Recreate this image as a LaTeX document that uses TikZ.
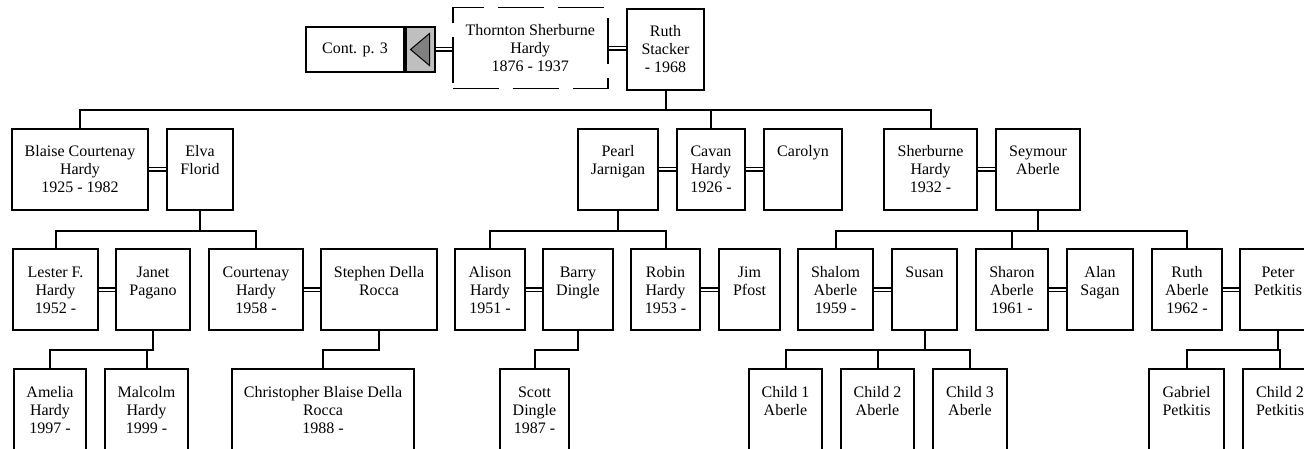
\documentclass[tikz,border=0pt]{standalone}
\usepackage{fontspec}
\setmainfont{Liberation Serif}
\usetikzlibrary{positioning}
\newcommand{\who}[1]{\begin{tabular}[t]{@{}c@{}}#1\end{tabular}}
\tikzset{
  person/.style={draw, line width=2pt, anchor=north west, inner sep=0pt,
    text height=28pt, text depth=53pt, font=\fontsize{16}{18}\selectfont},
  cut/.style={person, text depth=62pt},
  spouse/.style={double, double distance=2pt, line width=1.5pt},
  line/.style={line width=2pt}
}
\begin{document}
\begin{tikzpicture}[x=1pt,y=-1pt]
\useasboundingbox (0,0) rectangle (1304,449);
\clip (0,0) rectangle (1304,449);
% first generation
\node[draw, line width=2pt, anchor=north west, minimum width=98pt, minimum height=45pt, font=\fontsize{16}{18}\selectfont] (cont) at (305,26) {Cont. p. 3};
\node[draw, line width=2pt, fill=black!25, minimum width=29pt, minimum height=45pt, right=0pt of cont] (more) {};
\draw[line width=1pt, fill=black!50] ([xshift=-10pt]more.center) -- ([xshift=9pt,yshift=16pt]more.center) -- ([xshift=9pt,yshift=-16pt]more.center) -- cycle;
\node[person, line width=1.5pt, dash pattern=on 46pt off 14pt, minimum width=155pt] (thornton) at (452,7) {\who{Thornton Sherburne\\Hardy\\1876 - 1937}};
\node[person, minimum width=77pt] (ruthS) at (626,8) {\who{Ruth\\Stacker\\- 1968}};
\draw[spouse] (more.east) -- (more.east -| thornton.west);
\draw[spouse] (thornton.east) -- (thornton.east -| ruthS.west);
% second generation
\node[person, minimum width=136pt] (blaise) at (11,128) {\who{Blaise Courtenay\\Hardy\\1925 - 1982}};
\node[person, minimum width=66pt] (elva) at (166,128) {\who{Elva\\Florid}};
\node[person, minimum width=80pt] (pearl) at (577,128) {\who{Pearl\\Jarnigan}};
\node[person, minimum width=68pt] (cavan) at (676,128) {\who{Cavan\\Hardy\\1926 -}};
\node[person, minimum width=78pt] (carolyn) at (763,128) {\who{Carolyn}};
\node[person, minimum width=93pt] (sherburne) at (883,128) {\who{Sherburne\\Hardy\\1932 -}};
\node[person, minimum width=84pt] (seymour) at (995,128) {\who{Seymour\\Aberle}};
\draw[spouse] (blaise) -- (elva);
\draw[spouse] (pearl) -- (cavan);
\draw[spouse] (cavan) -- (carolyn);
\draw[spouse] (sherburne) -- (seymour);
\draw[line] (ruthS.south) -- ++(0,19) -| (blaise.north);
\draw[line] (ruthS.south) -- ++(0,19) -| (cavan.north);
\draw[line] (ruthS.south) -- ++(0,19) -| (sherburne.north);
% third generation
\node[person, minimum width=85pt] (lester) at (12,248) {\who{Lester F.\\Hardy\\1952 -}};
\node[person, minimum width=74pt] (janet) at (115,248) {\who{Janet\\Pagano}};
\node[person, minimum width=94pt] (courtenay) at (208,248) {\who{Courtenay\\Hardy\\1958 -}};
\node[person, minimum width=116pt] (stephen) at (320,248) {\who{Stephen Della\\Rocca}};
\node[person, minimum width=70pt] (alison) at (454,248) {\who{Alison\\Hardy\\1951 -}};
\node[person, minimum width=70pt] (barry) at (542,248) {\who{Barry\\Dingle}};
\node[person, minimum width=69pt] (robin) at (630,248) {\who{Robin\\Hardy\\1953 -}};
\node[person, minimum width=61pt] (jim) at (718,248) {\who{Jim\\Pfost}};
\node[person, minimum width=75pt] (shalom) at (797,248) {\who{Shalom\\Aberle\\1959 -}};
\node[person, minimum width=65pt] (susan) at (891,248) {\who{Susan}};
\node[person, minimum width=72pt] (sharon) at (975,248) {\who{Sharon\\Aberle\\1961 -}};
\node[person, minimum width=66pt] (alan) at (1066,248) {\who{Alan\\Sagan}};
\node[person, minimum width=70pt] (ruthA) at (1151,248) {\who{Ruth\\Aberle\\1962 -}};
\node[person, minimum width=76pt] (peter) at (1239,248) {\who{Peter\\Petkitis}};
\draw[spouse] (lester) -- (janet);
\draw[spouse] (courtenay) -- (stephen);
\draw[spouse] (alison) -- (barry);
\draw[spouse] (robin) -- (jim);
\draw[spouse] (shalom) -- (susan);
\draw[spouse] (sharon) -- (alan);
\draw[spouse] (ruthA) -- (peter);
\draw[line] (elva.south) -- ++(0,20) -| (lester.north);
\draw[line] (elva.south) -- ++(0,20) -| (courtenay.north);
\draw[line] (pearl.south) -- ++(0,20) -| (alison.north);
\draw[line] (pearl.south) -- ++(0,20) -| (robin.north);
\draw[line] (seymour.south) -- ++(0,20) -| (shalom.north);
\draw[line] (seymour.south) -- ++(0,20) -| (sharon.north);
\draw[line] (seymour.south) -- ++(0,20) -| (ruthA.north);
% fourth generation
\node[cut, minimum width=72pt] (amelia) at (13,368) {\who{Amelia\\Hardy\\1997 -}};
\node[cut, minimum width=83pt] (malcolm) at (104,368) {\who{Malcolm\\Hardy\\1999 -}};
\node[cut, minimum width=182pt] (christopher) at (231,368) {\who{Christopher Blaise Della\\Rocca\\1988 -}};
\node[cut, minimum width=69pt] (scott) at (499,368) {\who{Scott\\Dingle\\1987 -}};
\node[cut, minimum width=73pt] (childA) at (748,368) {\who{Child 1\\Aberle}};
\node[cut, minimum width=73pt] (childB) at (840,368) {\who{Child 2\\Aberle}};
\node[cut, minimum width=74pt] (childC) at (932,368) {\who{Child 3\\Aberle}};
\node[cut, minimum width=75pt] (gabriel) at (1148,368) {\who{Gabriel\\Petkitis}};
\node[cut, minimum width=74pt] (childP) at (1242,368) {\who{Child 2\\Petkitis}};
\draw[line] (janet.south) -- ++(0,19) -| (amelia.north);
\draw[line] (janet.south) -- ++(0,19) -| (malcolm.north);
\draw[line] (stephen.south) -- ++(0,19) -| (christopher.north);
\draw[line] (barry.south) -- ++(0,19) -| (scott.north);
\draw[line] (susan.south) -- ++(0,19) -| (childA.north);
\draw[line] (susan.south) -- ++(0,19) -| (childB.north);
\draw[line] (susan.south) -- ++(0,19) -| (childC.north);
\draw[line] (peter.south) -- ++(0,19) -| (gabriel.north);
\draw[line] (peter.south) -- ++(0,19) -| (childP.north);
\end{tikzpicture}
\end{document}
